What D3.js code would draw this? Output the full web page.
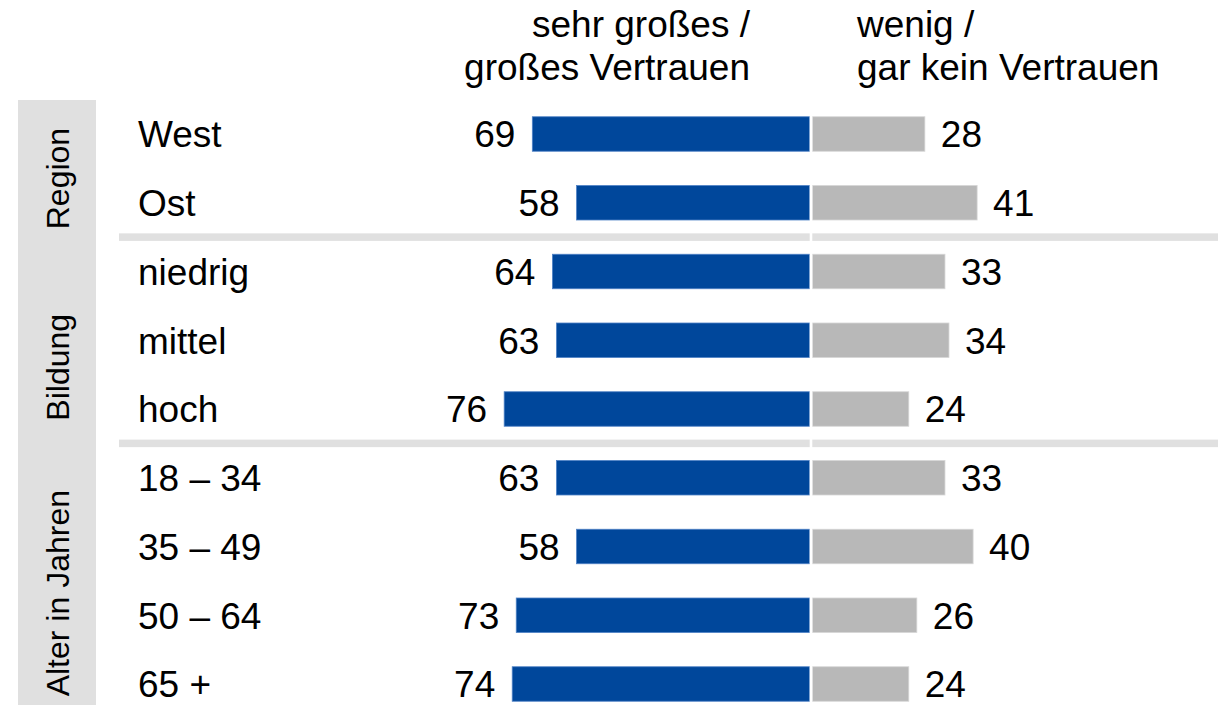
<!DOCTYPE html>
<html>
<head>
<meta charset="utf-8">
<script src="https://cdn.jsdelivr.net/npm/d3@7"></script>
<style>
  html, body { margin: 0; padding: 0; background: #fff; }
  svg { display: block; font-family: "Liberation Sans", Arial, sans-serif; }
</style>
</head>
<body>
<svg id="chart" width="1222" height="705"></svg>
<script>
// ---- data ----
const categories = ["West", "Ost", "niedrig", "mittel", "hoch", "18 – 34", "35 – 49", "50 – 64", "65 +"];
const groups = ["Region", "Region", "Bildung", "Bildung", "Bildung", "Alter in Jahren", "Alter in Jahren", "Alter in Jahren", "Alter in Jahren"];
const trustHigh = [69, 58, 64, 63, 76, 63, 58, 73, 74];
const trustLow = [28, 41, 33, 34, 24, 33, 40, 26, 24];
const headerLeft = ["sehr großes /", "großes Vertrauen"];
const headerRight = ["wenig /", "gar kein Vertrauen"];
const groupNames = ["Region", "Bildung", "Alter in Jahren"];

// ---- layout ----
const W = 1222, H = 705;
const svg = d3.select("#chart");
const blue = "#00479b", grey = "#b8b8b8", band = "#e0e0e0";
const centerL = 809.7, centerR = 812.3, pxPerUnit = 4.02;
const fs = 37;

const xL = d3.scaleLinear().domain([0, 100]).range([centerL, centerL - 100 * pxPerUnit]);
const xR = d3.scaleLinear().domain([0, 100]).range([centerR, centerR + 100 * pxPerUnit]);
const y = d3.scalePoint().domain(categories).range([134, 684]);
const barH = 34.5;

// left grey band
svg.append("rect").attr("x", 18).attr("y", 100).attr("width", 78).attr("height", H - 100).attr("fill", band);

// group separators
const sepIdx = [];
for (let i = 1; i < categories.length; i++) if (groups[i] !== groups[i - 1]) sepIdx.push(i);
svg.selectAll("rect.sep").data(sepIdx).join("rect")
  .attr("class", "sep")
  .attr("x", 119).attr("width", 1218 - 119)
  .attr("y", i => (y(categories[i - 1]) + y(categories[i])) / 2 - 3.75)
  .attr("height", 7.5)
  .attr("fill", band);

// group labels
const labelOffsets = { "Region": 10, "Bildung": 27, "Alter in Jahren": 19 };
const groupInfo = groupNames.map(g => {
  const idx = groups.map((d, i) => d === g ? i : -1).filter(i => i >= 0);
  const first = idx[0], last = idx[idx.length - 1];
  const top = first === 0 ? 100 : (y(categories[first - 1]) + y(categories[first])) / 2;
  const bottom = last === categories.length - 1 ? H : (y(categories[last]) + y(categories[last + 1])) / 2;
  return { g, mid: (top + bottom) / 2 + labelOffsets[g] };
});
svg.selectAll("text.grp").data(groupInfo).join("text")
  .attr("class", "grp")
  .attr("transform", d => `translate(58,${d.mid}) rotate(-90)`)
  .attr("text-anchor", "middle")
  .attr("dy", "0.35em")
  .attr("font-size", 32)
  .attr("fill", "#000")
  .text(d => d.g);

// category labels
svg.selectAll("text.cat").data(categories).join("text")
  .attr("class", "cat")
  .attr("x", 138).attr("y", d => y(d))
  .attr("dy", "0.36em")
  .attr("font-size", fs)
  .attr("fill", "#000")
  .text(d => d);

const rows = categories.map((c, i) => ({ c, hi: trustHigh[i], lo: trustLow[i] }));

// blue bars
svg.selectAll("rect.hi").data(rows).join("rect")
  .attr("class", "hi")
  .attr("x", d => xL(d.hi)).attr("width", d => xL(0) - xL(d.hi))
  .attr("y", d => y(d.c) - barH / 2).attr("height", barH)
  .attr("fill", blue)
  .attr("stroke", "#4f82c6").attr("stroke-width", 0.8);

// grey bars
svg.selectAll("rect.lo").data(rows).join("rect")
  .attr("class", "lo")
  .attr("x", xR(0)).attr("width", d => xR(d.lo) - xR(0))
  .attr("y", d => y(d.c) - barH / 2).attr("height", barH)
  .attr("fill", grey)
  .attr("stroke", "#d6d6d6").attr("stroke-width", 0.8);

// center white gap
svg.append("rect").attr("x", centerL).attr("width", centerR - centerL)
  .attr("y", 100).attr("height", H - 100).attr("fill", "#fff");

// value labels
svg.selectAll("text.vhi").data(rows).join("text")
  .attr("class", "vhi")
  .attr("x", d => xL(d.hi) - 17).attr("y", d => y(d.c))
  .attr("dy", "0.36em").attr("text-anchor", "end")
  .attr("font-size", fs).attr("fill", "#000")
  .text(d => d.hi);
svg.selectAll("text.vlo").data(rows).join("text")
  .attr("class", "vlo")
  .attr("x", d => xR(d.lo) + 16).attr("y", d => y(d.c))
  .attr("dy", "0.36em").attr("text-anchor", "start")
  .attr("font-size", fs).attr("fill", "#000")
  .text(d => d.lo);

// headers
const hdrBase = [37, 80];
svg.selectAll("text.hl").data(headerLeft).join("text")
  .attr("class", "hl")
  .attr("x", 750).attr("y", (d, i) => hdrBase[i])
  .attr("text-anchor", "end")
  .attr("font-size", fs).attr("fill", "#000")
  .text(d => d);
svg.selectAll("text.hr").data(headerRight).join("text")
  .attr("class", "hr")
  .attr("x", 857).attr("y", (d, i) => hdrBase[i])
  .attr("text-anchor", "start")
  .attr("font-size", fs).attr("fill", "#000")
  .text(d => d);
</script>
</body>
</html>
